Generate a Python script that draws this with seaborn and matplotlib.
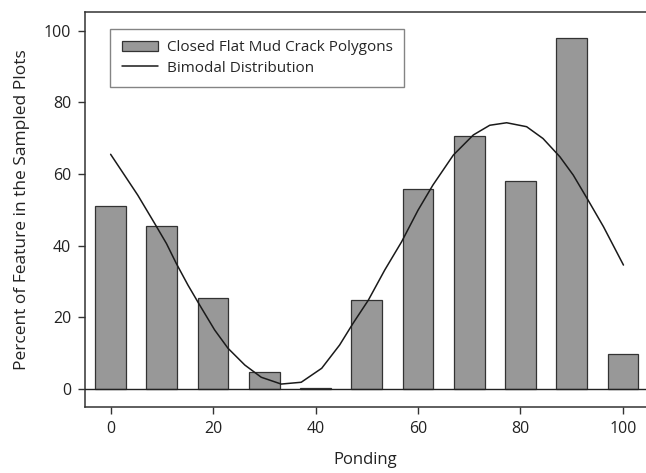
import matplotlib
matplotlib.use("Agg")
import matplotlib.pyplot as plt
import seaborn as sns
import pandas as pd

# Percent of closed flat mud crack polygons per ponding class
ponding = [0, 10, 20, 30, 40, 50, 60, 70, 80, 90, 100]
percent = [51.0, 45.6, 25.3, 4.9, 0.3, 24.8, 55.9, 70.6, 58.0, 98.0, 9.9]

# Bimodal distribution curve
curve_x = [0, 2.7, 5.3, 8.6, 10.9, 12.8, 15.1, 17.4, 20.3, 22.9, 26.2, 29.4,
           33.3, 37.2, 41.2, 44.7, 47.3, 50.3, 53.5, 56.8, 60.0, 62.9, 66.9,
           70.8, 74.0, 77.3, 81.2, 84.4, 87.7, 90.3, 93.2, 96.2, 100.1]
curve_y = [65.5, 59.7, 54.1, 46.2, 40.6, 35.1, 29.0, 23.4, 16.5, 11.4, 6.7, 3.3,
           1.4, 1.9, 5.8, 12.3, 18.3, 24.8, 33.2, 41.1, 49.9, 56.9, 65.3,
           70.9, 73.6, 74.3, 73.2, 69.9, 64.8, 59.7, 52.7, 45.3, 34.6]

sns.set_theme(style="white")
plt.rcParams["font.family"] = ["Open Sans", "DejaVu Sans"]

bars = pd.DataFrame({"Ponding": ponding, "Percent": percent})
line = pd.DataFrame({"Ponding": curve_x, "Percent": curve_y})

fig = plt.figure(figsize=(6.46, 4.73), dpi=100)
ax = fig.add_axes([85 / 646, 1 - 407 / 473, 1 - 85 / 646, (407 - 12) / 473])

sns.barplot(data=bars, x="Ponding", y="Percent", native_scale=True, width=0.6,
            color="#989898", saturation=1, edgecolor="#333333", linewidth=0.9,
            label="Closed Flat Mud Crack Polygons", ax=ax, zorder=2)
sns.lineplot(data=line, x="Ponding", y="Percent", color="#1a1a1a", linewidth=1.1,
             label="Bimodal Distribution", ax=ax, zorder=3, sort=False)

ax.axhline(0, color="#222222", linewidth=1.0, zorder=4)

ax.set_xlim(-5, 104.5)
ax.set_ylim(-5, 105.2)
ax.set_xticks([0, 20, 40, 60, 80, 100])
ax.set_yticks([0, 20, 40, 60, 80, 100])
ax.tick_params(axis="both", direction="out", length=5, width=1, color="#333333",
               labelsize=11.5, labelcolor="#222222", bottom=True, left=True, pad=5)

for side in ("left", "bottom", "top"):
    ax.spines[side].set_color("#333333")
    ax.spines[side].set_linewidth(1.1)
ax.spines["right"].set_visible(False)

ax.set_xlabel("Ponding", fontsize=12, color="#222222", labelpad=11)
ax.set_ylabel("Percent of Feature in the Sampled Plots", fontsize=12.5,
              color="#222222", labelpad=10)

# Bars first, then the fitted curve
handles, labels = ax.get_legend_handles_labels()
order = [labels.index("Closed Flat Mud Crack Polygons"),
         labels.index("Bimodal Distribution")]
leg = ax.legend([handles[i] for i in order], [labels[i] for i in order],
                loc="upper left", bbox_to_anchor=(0.045, 0.957), fontsize=11,
                frameon=True, fancybox=False, edgecolor="#666666",
                borderpad=0.75, handlelength=2.4, handletextpad=0.55,
                labelspacing=0.35, borderaxespad=0)
leg.get_frame().set_linewidth(1.0)

fig.savefig("out.png", dpi=100)
